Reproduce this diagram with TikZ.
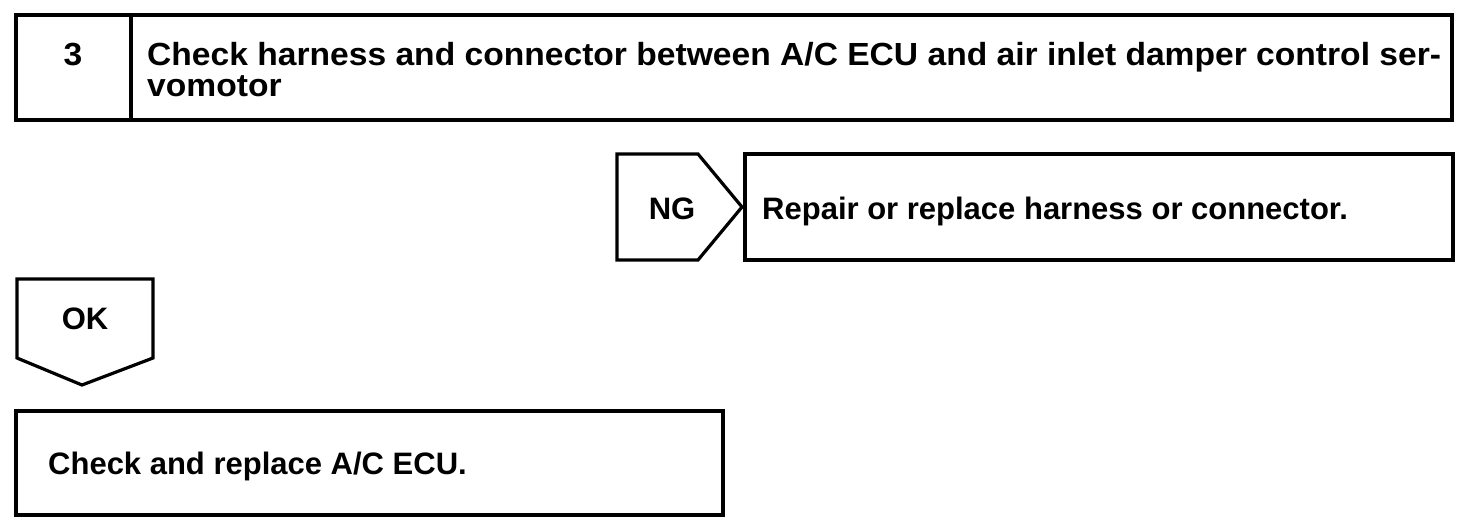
\documentclass[tikz,border=0pt]{standalone}
\usepackage{fontspec}
\setmainfont{Liberation Sans}
\newfontfamily\hdrfont[FakeStretch=1.05]{Liberation Sans}
\begin{document}
\begin{tikzpicture}[x=1pt,y=-1pt,
  frame/.style={draw, line width=3.2pt, line join=miter},
  lbl/.style={font=\bfseries\fontsize{31}{31}\selectfont, inner sep=0pt},
  hdr/.style={font=\hdrfont\bfseries\fontsize{32}{32}\selectfont, inner sep=0pt}]
\useasboundingbox (0,0) rectangle (1472,528);
% step header
\draw[frame] (16,15) rectangle (1452,120);
\draw[frame] (131,15) -- (131,120);
\node[hdr, anchor=base] (num) at (73,65) {3};
\node[hdr, anchor=base west] (t1) at (147,65) {Check harness and connector between A/C ECU and air inlet damper control ser-};
\node[hdr, anchor=base west] (t2) at (147,96) {vomotor};
% NG tag
\coordinate (ng1) at (617,154);
\coordinate (ng2) at (698,154);
\coordinate (ng3) at (742,207);
\coordinate (ng4) at (698,260);
\coordinate (ng5) at (617,260);
\draw[frame] (ng1) -- (ng2) -- (ng3) -- (ng4) -- (ng5) -- cycle;
\node[lbl, anchor=base] (ng) at (672,219) {NG};
% repair box
\draw[frame] (745,154) rectangle (1453,260);
\node[lbl, anchor=base west] (rep) at (762,219) {Repair or replace harness or connector.};
% OK tag
\coordinate (ok1) at (17,279);
\coordinate (ok2) at (153,279);
\coordinate (ok3) at (153,358);
\coordinate (ok4) at (82,385);
\coordinate (ok5) at (17,358);
\draw[frame] (ok1) -- (ok2) -- (ok3) -- (ok4) -- (ok5) -- cycle;
\node[lbl, anchor=base] (ok) at (85,329) {OK};
% final box
\draw[frame] (16,411) rectangle (723,515);
\node[lbl, anchor=base west] (ecu) at (48,474) {Check and replace A/C ECU.};
\end{tikzpicture}
\end{document}
